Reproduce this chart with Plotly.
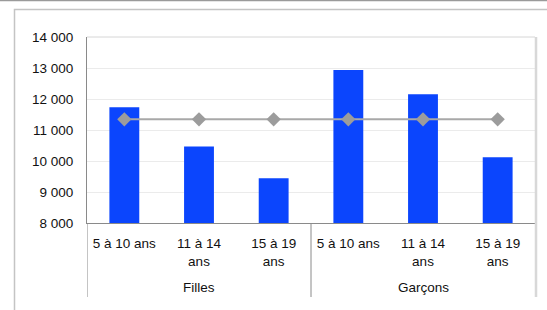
import plotly.graph_objects as go

groups = ["Filles", "Garçons"]
ages = ["5 à 10 ans", "11 à 14<br>ans", "15 à 19<br>ans"]
bar_values = [11730, 10470, 9440, 12935, 12150, 10120]
avg_values = [11345, 11345, 11345, 11345, 11345, 11345]
y_ticks = [8000, 9000, 10000, 11000, 12000, 13000, 14000]
y_ticktext = ["8 000", "9 000", "10 000", "11 000", "12 000", "13 000", "14 000"]

cat_labels = [a for g in groups for a in ages]
xpos = list(range(len(bar_values)))

FONT = "Liberation Sans, Arial, Helvetica, sans-serif"
TXT = "#111111"

fig = go.Figure()
fig.add_trace(go.Bar(x=xpos, y=bar_values, width=0.4,
                     marker=dict(color="#0b45fd", line=dict(width=0)),
                     showlegend=False, hoverinfo="skip"))
fig.add_trace(go.Scatter(x=xpos, y=avg_values, mode="lines+markers",
                         line=dict(color="#a8a8a8", width=2),
                         marker=dict(symbol="diamond", size=11, color="#9c9c9c"),
                         showlegend=False, hoverinfo="skip"))

H_PLOT = 186.0
W_PLOT = 448.0

def py(px):  # page pixel y -> paper y
    return (223 - px) / H_PLOT

def px_(x):  # page pixel x -> paper x
    return (x - 87) / W_PLOT

shapes = []
# page top line
shapes.append(dict(type="line", xref="paper", yref="paper", x0=px_(-5), x1=px_(560),
                   y0=py(0.5), y1=py(0.5), line=dict(color="#9a9a9a", width=1.5)))
# outer frame
shapes.append(dict(type="rect", xref="paper", yref="paper", x0=px_(14.5), x1=px_(560),
                   y0=py(320), y1=py(9.5), line=dict(color="#c4c4c4", width=1.5), layer="below"))
# plot area top and right borders (light)
shapes.append(dict(type="line", xref="paper", yref="paper", x0=0, x1=1, y0=1, y1=1,
                   line=dict(color="#d6d6d6", width=1)))
shapes.append(dict(type="line", xref="paper", yref="paper", x0=px_(536), x1=px_(536), y0=py(297), y1=1,
                   line=dict(color="#d8d8d8", width=2.5)))
# group separators
for xv in [-0.5, 2.5]:
    shapes.append(dict(type="line", xref="x", yref="paper", x0=xv, x1=xv, y0=py(297), y1=0,
                       line=dict(color="#8a8a8a", width=1)))

annotations = []
for i, g in enumerate(groups):
    annotations.append(dict(x=1 + 3 * i, y=py(287), xref="x", yref="paper", text=g,
                            showarrow=False, xanchor="center", yanchor="middle",
                            font=dict(family=FONT, size=13.5, color=TXT)))

fig.update_layout(
    width=547, height=310,
    margin=dict(l=87, r=12, t=37, b=87),
    paper_bgcolor="white", plot_bgcolor="white",
    font=dict(family=FONT, size=13.5, color=TXT),
    bargap=0.6,
    shapes=shapes, annotations=annotations,
    xaxis=dict(range=[-0.5, 5.5], tickmode="array", tickvals=xpos, ticktext=cat_labels,
               showgrid=False, zeroline=False, showline=True, linecolor="#8a8a8a", linewidth=1,
               ticks="", ticklabelstandoff=8, tickfont=dict(family=FONT, size=13.5, color=TXT),
               fixedrange=True),
    yaxis=dict(range=[8000, 14000], tickmode="array", tickvals=y_ticks, ticktext=y_ticktext,
               showgrid=True, gridcolor="#ebebeb", gridwidth=1, zeroline=False,
               showline=True, linecolor="#8a8a8a", linewidth=1, ticks="",
               ticklabelstandoff=10, tickfont=dict(family=FONT, size=13.5, color=TXT),
               fixedrange=True),
)

fig.write_html("out.html", config={"displayModeBar": False},
               post_script="document.body.style.margin='0';document.body.style.padding='0';")
